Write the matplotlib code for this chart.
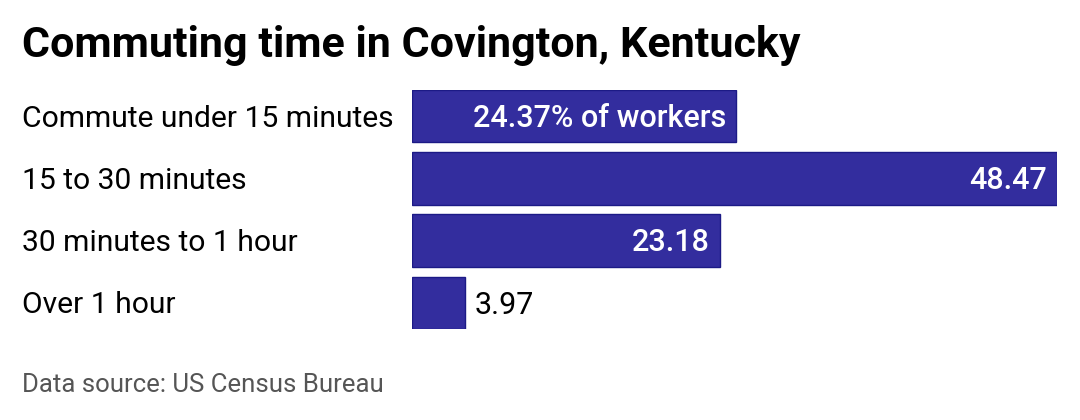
import matplotlib.pyplot as plt

categories = ["Commute under 15 minutes", "15 to 30 minutes", "30 minutes to 1 hour", "Over 1 hour"]
values = [24.37, 48.47, 23.18, 3.97]
value_labels = ["24.37% of workers", "48.47", "23.18", "3.97"]

plt.rcParams['font.family'] = ['Roboto', 'DejaVu Sans']

fig = plt.figure(figsize=(10.8, 4.2), dpi=100)
fig.patch.set_facecolor('white')

# axes placed in pixel terms: bars from x=412 to 1057, y=90 to 329
W, H = 1080, 420
ax = fig.add_axes([412 / W, 1 - 329 / H, (1057 - 412) / W, (329 - 90) / H])
ax.set_xlim(0, max(values))
ax.set_ylim(len(values) - 1 + 0.42, -0.42)
ax.axis('off')

ypos = list(range(len(values)))
ax.barh(ypos, values, height=0.84, color='#332d9e', edgecolor='#1c1a86', linewidth=1)

# baseline shifted down by half the cap height so capitals sit centred on the bar
for y, v, lab, cat in zip(ypos, values, value_labels, categories):
    if v > 10:
        ax.annotate(lab, (v, y), xytext=(-7.5, -7.8), textcoords='offset points',
                    ha='right', va='baseline', color='white', fontsize=22, fontweight='medium')
    else:
        ax.annotate(lab, (v, y), xytext=(7, -7.8), textcoords='offset points',
                    ha='left', va='baseline', color='black', fontsize=22)
    ax.annotate(cat, (-390 / 645 * max(values), y), xytext=(0, -7.6), textcoords='offset points',
                ha='left', va='baseline', fontsize=21.6, color='black', annotation_clip=False)

fig.text(22 / W, 1 - 45 / H, "Commuting time in Covington, Kentucky", ha='left', va='center',
         fontsize=31, fontweight='bold', color='black')
fig.text(22 / W, 1 - 385 / H, "Data source: US Census Bureau", ha='left', va='center',
         fontsize=18.5, color='#555555')

fig.savefig('out.png', dpi=100, facecolor='white')
